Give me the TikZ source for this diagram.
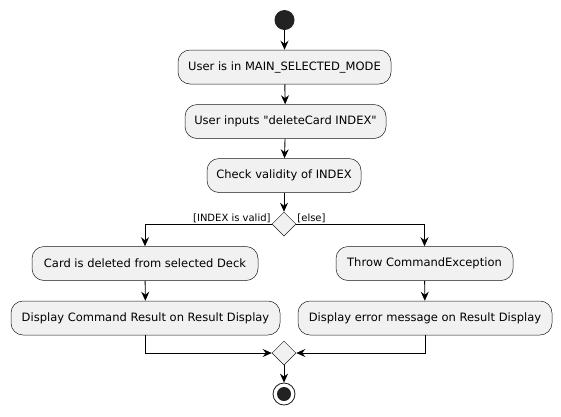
\documentclass[tikz,border=0pt]{standalone}
\usepackage{fontspec}
\setmainfont{DejaVu Sans}
\usetikzlibrary{shapes.geometric,arrows.meta}
\definecolor{boxfill}{HTML}{F1F1F1}
\definecolor{boxline}{HTML}{181818}
\definecolor{dotfill}{HTML}{222222}
\begin{document}
\begin{tikzpicture}[x=1pt,y=1pt,
  act/.style={draw=boxline, line width=0.5pt, fill=boxfill, rounded corners=12pt,
    minimum height=34pt, inner sep=0pt, font=\fontsize{11.5}{13}\selectfont},
  dia/.style={diamond, draw=boxline, line width=0.5pt, fill=boxfill, minimum width=24pt,
    minimum height=24pt, inner sep=0pt, aspect=1},
  flow/.style={draw=black, line width=0.9pt, -{Stealth[length=9pt,width=8pt,inset=3pt]}},
  lbl/.style={font=\fontsize{10}{11}\selectfont, inner sep=1pt}
]
\useasboundingbox (0,0) rectangle (561,-416);
\node[circle, fill=dotfill, minimum size=20pt, inner sep=0pt] (start) at (284.5,-20) {};
\node[act, minimum width=213pt] (b1) at (284.5,-67) {User is in MAIN\_SELECTED\_MODE};
\node[act, minimum width=201pt] (b2) at (285.5,-121.5) {User inputs \textquotedbl deleteCard INDEX\textquotedbl};
\node[act, minimum width=154pt] (b3) at (284,-175.5) {Check validity of INDEX};
\node[dia] (dec) at (284,-224) {};
\node[act, minimum width=226pt] (l1) at (145,-263.5) {Card is deleted from selected Deck};
\node[act, minimum width=269pt] (l2) at (145.5,-318) {Display Command Result on Result Display};
\node[act, minimum width=177pt] (r1) at (424.5,-263.5) {Throw CommandException};
\node[act, minimum width=254pt] (r2) at (425,-318) {Display error message on Result Display};
\node[dia] (merge) at (284,-353) {};
\node[circle, draw=boxline, line width=0.8pt, fill=white, minimum size=22pt, inner sep=0pt] (end) at (284,-394) {};
\fill[dotfill] (end.center) circle (7pt);

\draw[flow] (start) -- (b1);
\draw[flow] (b1) -- (b2);
\draw[flow] (b2) -- (b3);
\draw[flow] (b3) -- (dec);
\draw[flow] (dec.west) -| (l1.north);
\draw[flow] (dec.east) -| (r1.north);
\node[lbl, anchor=south east] (lv) at (dec.west) {[INDEX is valid]};
\node[lbl, anchor=south west] (le) at (dec.east) {[else]};
\draw[flow] (l1) -- (l2);
\draw[flow] (r1) -- (r2);
\draw[flow] (l2.south) |- (merge.west);
\draw[flow] (r2.south) |- (merge.east);
\draw[flow] (merge) -- (end);
\end{tikzpicture}
\end{document}
